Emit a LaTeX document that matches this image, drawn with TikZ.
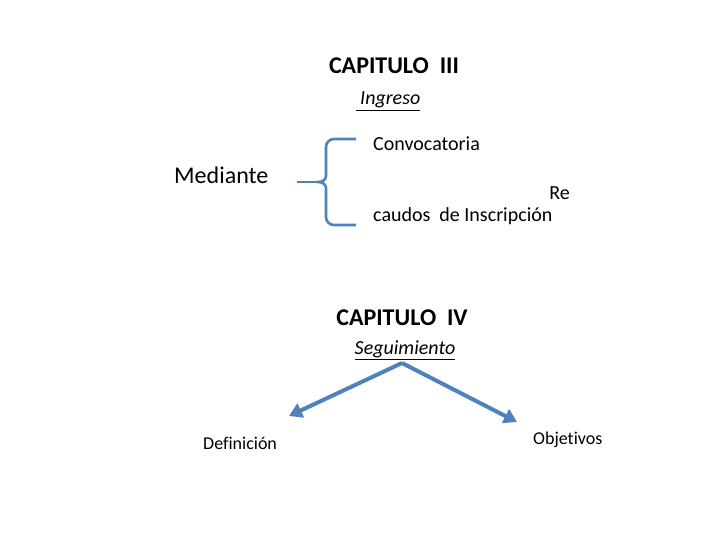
\documentclass[tikz,border=0pt]{standalone}
\usepackage{fontspec}
\setmainfont[Ligatures={NoCommon}]{Carlito}
\usepackage{xcolor}
\usetikzlibrary{arrows.meta}
\definecolor{braceblue}{HTML}{4F81BD}

\begin{document}
\begin{tikzpicture}[x=1pt,y=-1pt,
    bluearrow/.style={line width=4pt, draw=braceblue, -{Triangle[length=13pt,width=15pt]}},
    txt/.style={inner sep=0pt, anchor=base}]
      % \draw[help lines, gray!50, very thin] (0,0) grid[step=20] (720,540);
      \useasboundingbox (0,0) rectangle (720,540);

      % capitulo III
      \node[txt, font=\fontsize{24}{27}\selectfont\bfseries] (cap3) at (394,74) {CAPITULO\ \ III};
      \node[txt, font=\fontsize{20}{24}\selectfont] (ingreso) at (388,105) {\underline{\textit{\ Ingreso}}};

      \node[txt, anchor=base west, font=\fontsize{24}{27}\selectfont] (mediante) at (174,184) {Mediante};
      \node[txt, anchor=base west, font=\fontsize{20}{24}\selectfont] (convoc) at (373,151) {Convocatoria};
      \node[txt, anchor=base east, font=\fontsize{20}{24}\selectfont] (re) at (570,200) {Re};
      \node[txt, anchor=base west, font=\fontsize{20}{24}\selectfont] (recaudos) at (373,222) {caudos\ \ de Inscripción};

      % llave
      \coordinate (bt) at (356,139);
      \coordinate (bm) at (318,182);
      \coordinate (bb) at (356,225);
      \coordinate (bl) at (297,182);
      \draw[braceblue, line width=2.6pt] (bt) -- (334,139) to[out=180,in=90] (326,147)
          -- (326,176) to[out=-90,in=0] (bm) to[out=0,in=90] (326,188)
          -- (326,217) to[out=-90,in=180] (334,225) -- (bb);
      \draw[braceblue, line width=2.6pt] (bl) -- (bm);

      % capitulo IV
      \node[txt, font=\fontsize{24}{27}\selectfont\bfseries] (cap4) at (402,325) {CAPITULO\ \ IV};
      \node[txt, font=\fontsize{20}{24}\selectfont] (seguim) at (405,354) {\underline{\textit{Seguimiento}}};
      \coordinate (top) at (402,363);

      \node[txt, anchor=base west, font=\fontsize{18}{21}\selectfont] (defin) at (203,449) {Definición};
      \node[txt, anchor=base west, font=\fontsize{18}{21}\selectfont] (objet) at (533,444) {Objetivos};
      \coordinate (tipl) at (289,416);
      \coordinate (tipr) at (517,422);

      \draw[bluearrow] (top) -- (tipl);
      \draw[bluearrow] (top) -- (tipr);
\end{tikzpicture}
\end{document}
